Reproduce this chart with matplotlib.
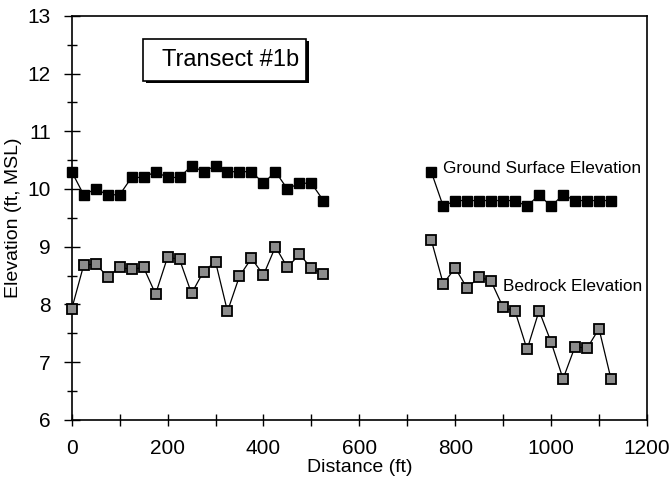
import numpy as np
import matplotlib
matplotlib.use('Agg')
import matplotlib.pyplot as plt
from matplotlib.ticker import MultipleLocator
from matplotlib.patches import Rectangle

plt.rcParams['font.family'] = ['Liberation Sans', 'DejaVu Sans']

# distance (ft) for the two surveyed stretches
dist_a = [0, 25, 50, 75, 100, 125, 150, 175, 200, 225, 250,
          275, 300, 325, 350, 375, 400, 425, 450, 475, 500, 525]
dist_b = [750, 775, 800, 825, 850, 875, 900, 925, 950, 975,
          1000, 1025, 1050, 1075, 1100, 1125]

ground_a = [10.3, 9.9, 10.0, 9.9, 9.9, 10.2, 10.2, 10.3, 10.2, 10.2, 10.4,
            10.3, 10.4, 10.3, 10.3, 10.3, 10.1, 10.3, 10.0, 10.1, 10.1, 9.8]
ground_b = [10.3, 9.7, 9.8, 9.8, 9.8, 9.8, 9.8, 9.8, 9.7, 9.9,
            9.7, 9.9, 9.8, 9.8, 9.8, 9.8]

bedrock_a = [7.92, 8.68, 8.70, 8.48, 8.64, 8.61, 8.64, 8.18, 8.82, 8.78, 8.19,
             8.57, 8.74, 7.88, 8.49, 8.80, 8.51, 9.00, 8.64, 8.87, 8.63, 8.53]
bedrock_b = [9.12, 8.36, 8.63, 8.28, 8.48, 8.40, 7.95, 7.88, 7.22, 7.89,
             7.35, 6.71, 7.27, 7.24, 7.58, 6.71]

fig = plt.figure(figsize=(6.72, 4.94), dpi=100)
ax = fig.add_axes([0.1067, 0.150, 0.856, 0.818])

for xs, ys in [(dist_a, ground_a), (dist_b, ground_b)]:
    ax.plot(xs, ys, color='black', lw=0.9, marker='s', ms=7,
            mfc='black', mec='black', clip_on=False, zorder=3)
for xs, ys in [(dist_a, bedrock_a), (dist_b, bedrock_b)]:
    ax.plot(xs, ys, color='black', lw=0.9, marker='s', ms=7,
            mfc='#8c8c8c', mec='black', mew=1.3, clip_on=False, zorder=3)

ax.set_xlim(0, 1200)
ax.set_ylim(6, 13)
ax.xaxis.set_major_locator(MultipleLocator(200))
ax.xaxis.set_minor_locator(MultipleLocator(100))
ax.yaxis.set_major_locator(MultipleLocator(1))
ax.yaxis.set_minor_locator(MultipleLocator(0.5))
ax.tick_params(axis='both', which='both', direction='inout', width=1, labelsize=15)
ax.tick_params(axis='y', which='major', length=12, pad=9)
ax.tick_params(axis='y', which='minor', length=7)
ax.tick_params(axis='x', which='both', length=9, pad=9)
for s in ax.spines.values():
    s.set_linewidth(1.2)

ax.set_xlabel('Distance (ft)', fontsize=14, labelpad=1)
ax.set_ylabel('Elevation (ft, MSL)', fontsize=14, labelpad=4)

ax.text(775, 10.35, 'Ground Surface Elevation', fontsize=12.4, va='center', ha='left')
ax.text(899, 8.31, 'Bedrock Elevation', fontsize=12.4, va='center', ha='left')

# title box with a drop shadow
ax.add_patch(Rectangle((154, 11.84), 340, 0.715, fc='black', ec='black', lw=0, zorder=4))
ax.add_patch(Rectangle((149, 11.875), 340, 0.715, fc='white', ec='black', lw=1.2, zorder=5))
ax.text(331, 12.23, 'Transect #1b', fontsize=17, ha='center', va='center', zorder=6)

plt.savefig('out.png', dpi=100)
